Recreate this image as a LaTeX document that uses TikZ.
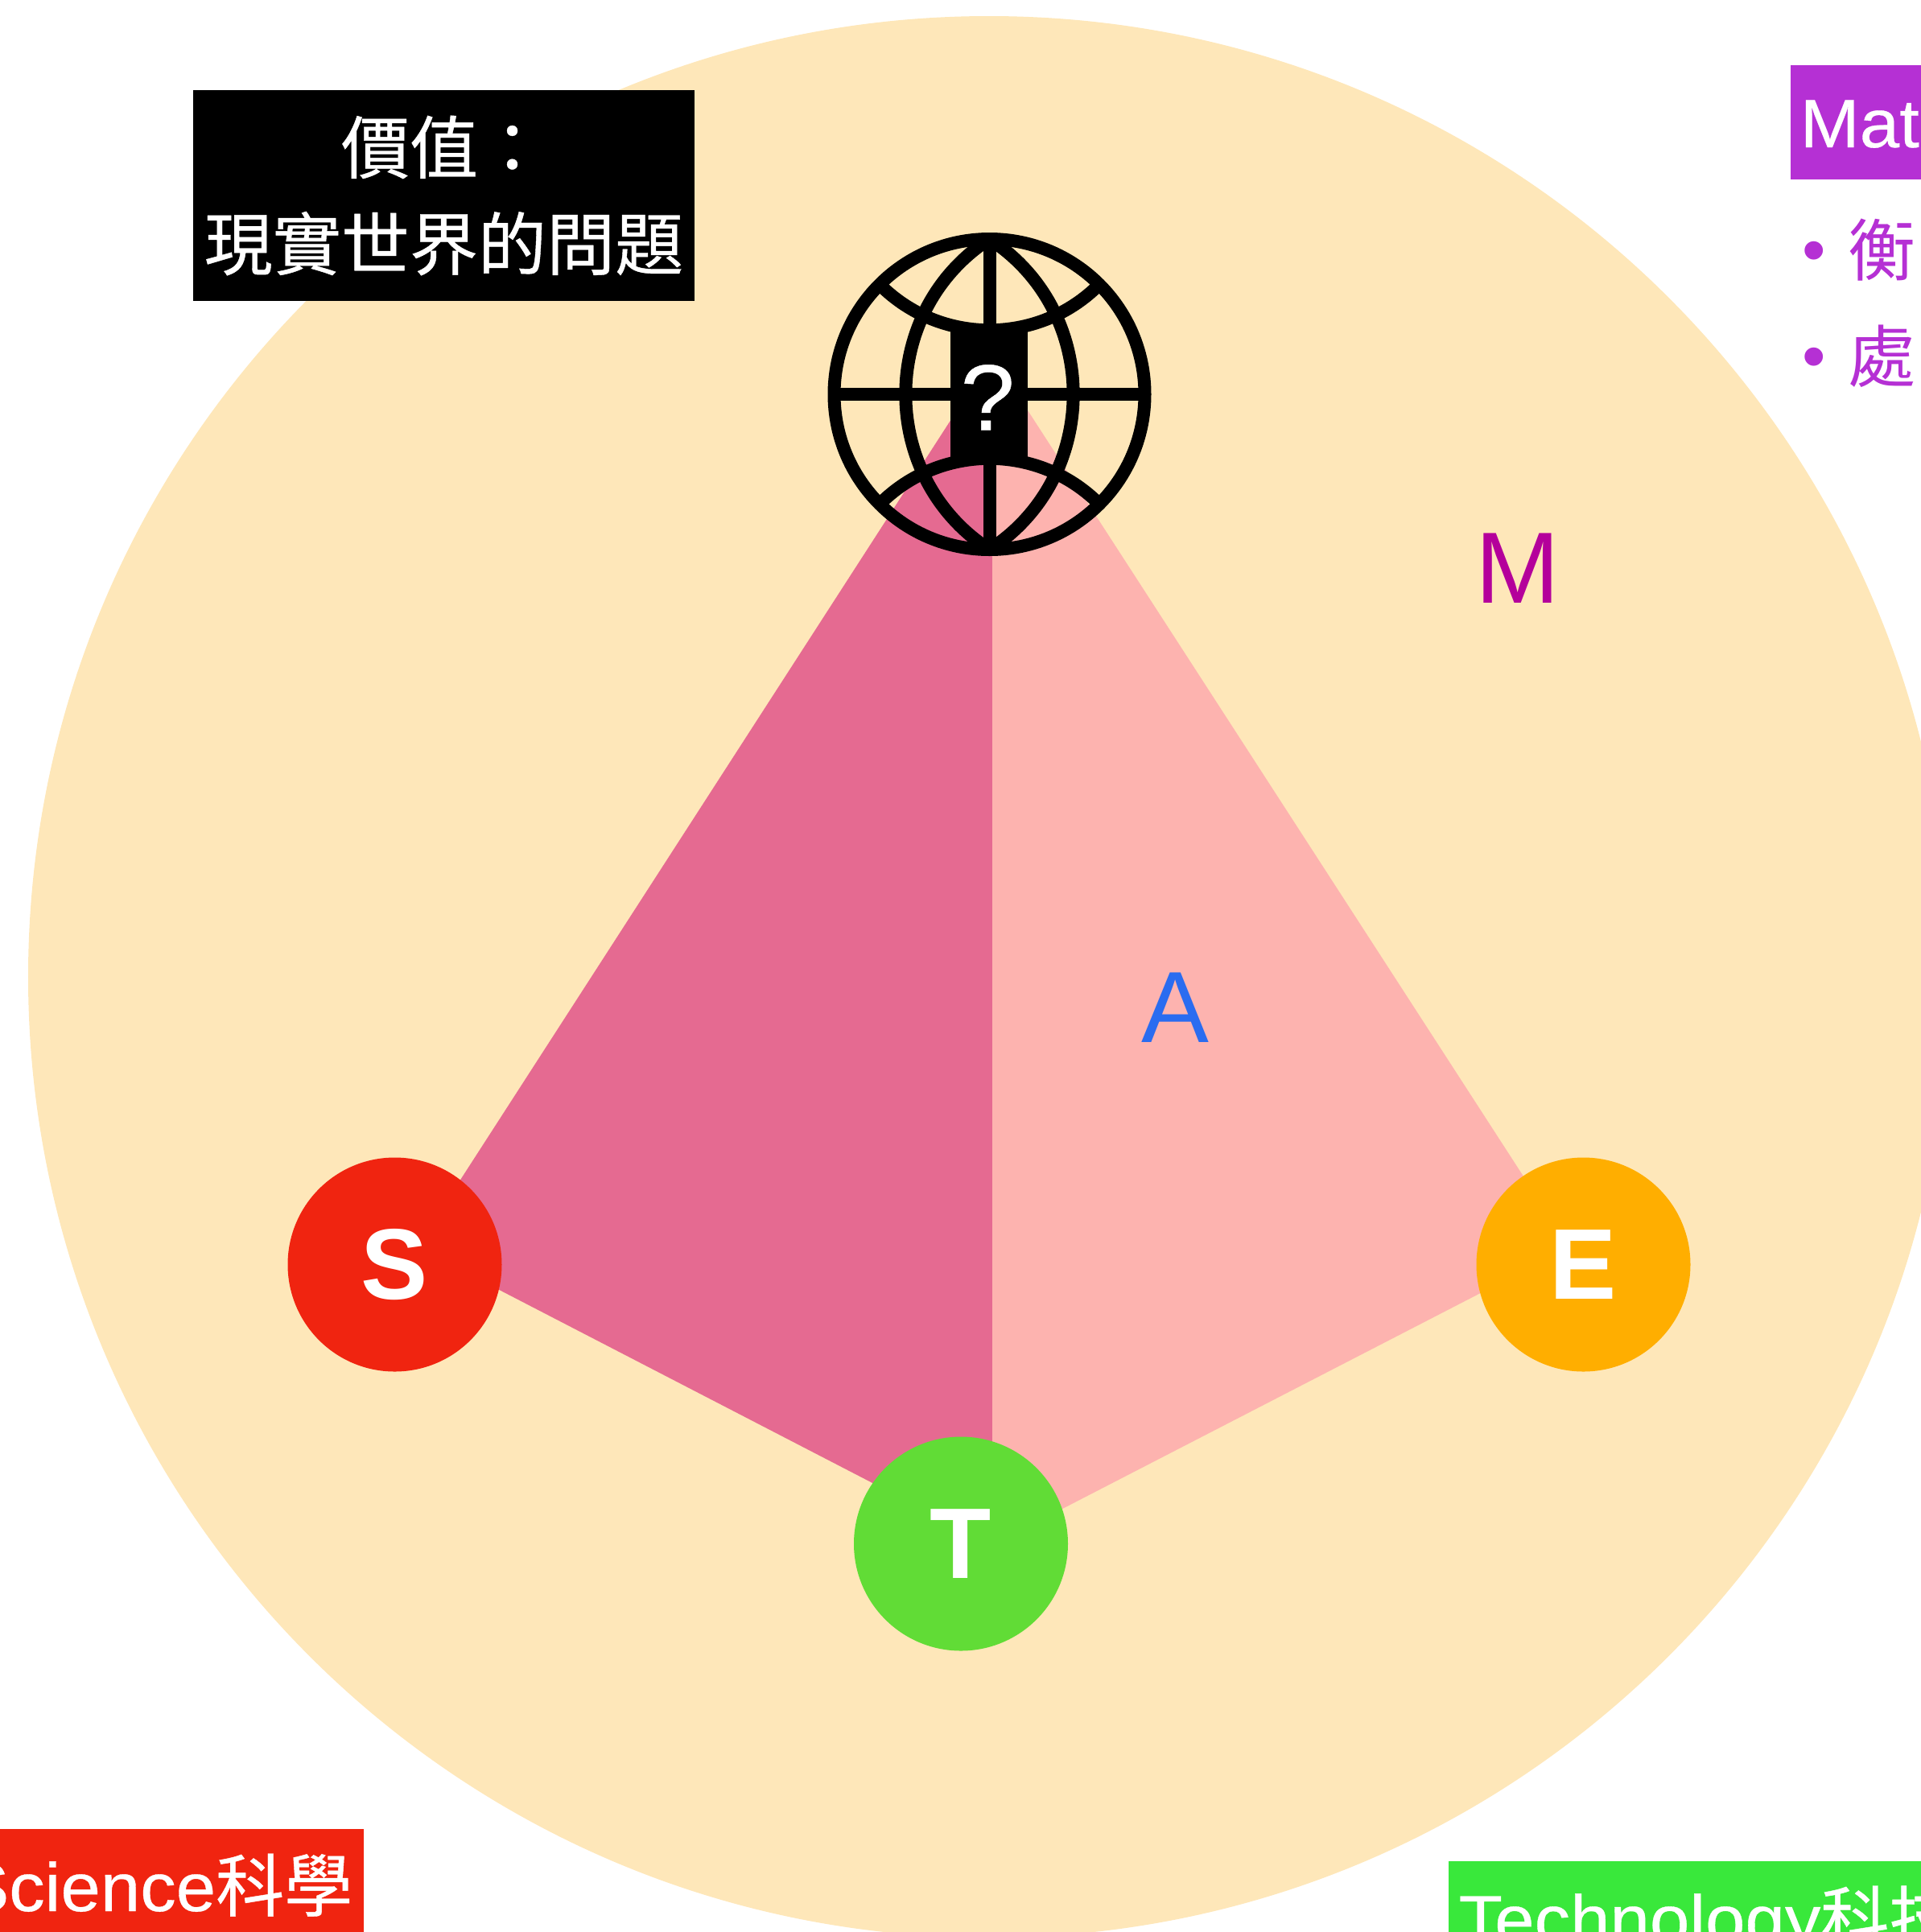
\documentclass[tikz,border=0pt]{standalone}
\usepackage{fontspec}
\setmainfont{Liberation Sans}
\newfontfamily\cjk{Noto Sans CJK TC}[FakeBold=0.5]
\newfontfamily\cjkthin{Noto Sans CJK TC}
\newfontfamily\boxfont{Liberation Sans}[FakeStretch=1.045,FakeBold=0.4]
\definecolor{kerma}{HTML}{FEE7B9}
\definecolor{rdark}{HTML}{E56A91}
\definecolor{rlight}{HTML}{FDB3AF}
\definecolor{sred}{HTML}{F02410}
\definecolor{eorange}{HTML}{FFAE00}
\definecolor{tgreen}{HTML}{61DC36}
\definecolor{techgreen}{HTML}{39E83B}
\definecolor{mpurple}{HTML}{B530D4}
\definecolor{mmagenta}{HTML}{B4009B}
\definecolor{ablue}{HTML}{2A6CF0}
\tikzset{
  letter/.style={circle,minimum size=2.66cm,inner sep=0pt,white,font=\fontsize{35.5}{35.5}\selectfont\bfseries},
  biglabel/.style={font=\fontsize{35.8}{35.8}\selectfont},
  boxlabel/.style={white,inner sep=0pt,font=\fontsize{24.2}{24.2}\selectfont\boxfont},
  bulletlabel/.style={mpurple,inner sep=0pt,anchor=base west,font=\fontsize{23.9}{23.9}\selectfont},
  globeline/.style={line width=0.16cm}
}

\begin{document}
\begin{tikzpicture}[y=-1cm]
  \useasboundingbox (0,0) rectangle (23.87,24.01);
  \clip (0,0) rectangle (23.87,24.01);

  \fill[kerma] (12.29,12.14) circle (11.94);
  \fill[rdark] (12.33,4.42) -- (5.18,15.50) -- (12.33,19.20) -- cycle;
  \fill[rlight] (12.33,4.42) -- (19.50,15.50) -- (12.33,19.20) -- cycle;

  \draw[fill=black] (2.41,1.13) rectangle ++(6.21,2.60) node[pos=0.5,white,inner sep=0pt,align=center,font=\fontsize{24.2}{34.1}\selectfont\cjk] (value) {價值：\\現實世界的問題};

  \fill[mpurple] (22.25,0.81) rectangle ++(1.62,1.42);
  \node[boxlabel,anchor=base west] (math) at (22.36,1.83) {Mat};
  \node[bulletlabel] (mitem) at (22.39,3.42) {\raisebox{0.8pt}{•}\hspace{7.7pt}{\cjkthin 衡}};
  \node[bulletlabel] (pitem) at (22.39,4.74) {\raisebox{0.8pt}{•}\hspace{7.7pt}{\cjkthin 處}};

  \fill[sred] (0,22.73) rectangle ++(4.52,1.28);
  \node[boxlabel,anchor=base east] (science) at (4.39,23.75) {Science{\cjk 科學}};
  \fill[techgreen] (18.00,23.13) rectangle ++(5.87,0.88);
  \node[boxlabel,anchor=base west] (tech) at (18.12,24.15) {Technology{\cjk 科技}};

  \node[biglabel,mmagenta] (m) at (18.86,7.06) {M};
  \node[biglabel,ablue] (a) at (14.60,12.52) {A};

  \node[letter,fill=sred] (s) at (4.905,15.715) {S};
  \node[letter,fill=eorange] (e) at (19.675,15.715) {E};
  \node[letter,fill=tgreen] (t) at (11.94,19.185) {T};

  \coordinate (north) at (12.295,2.97);
  \coordinate (south) at (12.295,6.83);
  \coordinate (west) at (10.365,4.90);
  \coordinate (east) at (14.225,4.90);
  \draw[globeline] (12.295,4.90) circle (1.93);
  \draw[globeline] (west) -- (east);
  \draw[globeline] (north) -- (south);
  \draw[globeline] (north) to[bend left=57,looseness=1.1] (south);
  \draw[globeline] (north) to[bend right=57,looseness=1.1] (south);
  \draw[globeline] (10.935,3.54) to[bend right=45] (13.655,3.54);
  \draw[globeline] (10.935,6.26) to[bend left=45] (13.655,6.26);
  \fill[black] (11.81,4.07) rectangle ++(0.96,1.63) node[pos=0.5,white,inner sep=0pt,yshift=-1.5pt,xshift=-0.5pt,font=\fontsize{33}{33}\selectfont\boxfont] (what) {?};
\end{tikzpicture}
\end{document}
